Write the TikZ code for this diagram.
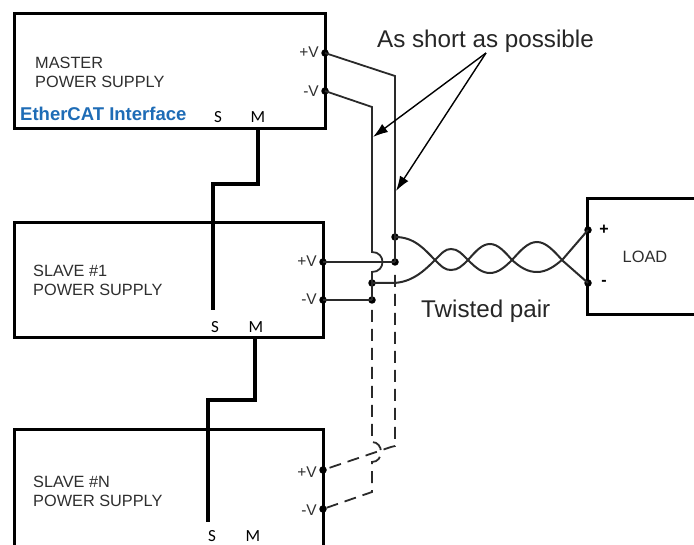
\documentclass[tikz,border=0pt]{standalone}
\usepackage{fontspec}
\setmainfont{Liberation Sans}
\newfontfamily\smfont{Carlito}
\usetikzlibrary{arrows.meta}
\definecolor{labelgray}{HTML}{2E2E2E}
\definecolor{wiregray}{HTML}{2A2A2A}
\definecolor{ecblue}{HTML}{1E6CB6}
\begin{document}
\begin{tikzpicture}[x=1pt,y=-1pt,
  psbox/.style={draw=black,line width=3pt,inner sep=0pt,outer sep=0pt},
  lbl/.style={text=labelgray,font=\fontsize{16.3}{19}\selectfont,anchor=base west,inner sep=0pt},
  term/.style={text=labelgray,font=\fontsize{15.5}{17}\selectfont,anchor=base east,inner sep=0pt},
  smlbl/.style={text=black,font=\smfont\fontsize{17}{19}\selectfont,anchor=base,inner sep=0pt},
  dotn/.style={circle,fill=black,inner sep=0pt,minimum size=7.5pt},
  wire/.style={draw=wiregray,line width=1.8pt,line join=miter},
  dwire/.style={wire,dash pattern=on 12pt off 7pt},
  smwire/.style={draw=black,line width=4pt,line join=miter},
  pointer/.style={draw=black,line width=1.4pt,-{Latex[length=15pt,width=10pt]}},
  big/.style={text=black!85,font=\fontsize{24.2}{27}\selectfont,anchor=base west,inner sep=0pt}]
\useasboundingbox (0,0) rectangle (694,545);
\clip (0,0) rectangle (694,545);
\fill[white] (0,0) rectangle (694,545);

% boxes
\node[psbox,minimum width=311pt,minimum height=115pt] (master) at (169.5,71.5) {};
\node[psbox,minimum width=309pt,minimum height=115pt] (slave1) at (168.5,280.5) {};
\node[psbox,minimum width=309pt,minimum height=150pt] (slaveN) at (168.5,505) {};
\node[psbox,minimum width=140pt,minimum height=116pt] (load) at (657,257) {};

% box texts
\node[lbl] (mt1) at (35,69) {MASTER};
\node[lbl] (mt2) at (35,88) {POWER SUPPLY};
\node[anchor=base west,inner sep=0pt,text=ecblue,font=\bfseries\fontsize{18.5}{20}\selectfont] (eth) at (20,120.5) {EtherCAT Interface};
\node[lbl] (s1t1) at (33,277) {SLAVE \#1};
\node[lbl] (s1t2) at (33,296) {POWER SUPPLY};
\node[lbl] (sNt1) at (33,487) {SLAVE \#N};
\node[lbl] (sNt2) at (33,506) {POWER SUPPLY};
\node[text=labelgray,font=\fontsize{16.4}{18}\selectfont,inner sep=0pt] (loadt) at (645,257) {LOAD};

% S / M labels
\node[smlbl] (mS) at (218,123) {S};
\node[smlbl] (mM) at (258,123) {M};
\node[smlbl] (s1S) at (215,333) {S};
\node[smlbl] (s1M) at (256,333) {M};
\node[smlbl] (sNS) at (212,541.5) {S};
\node[smlbl] (sNM) at (253,541.5) {M};

% terminal labels
\node[term] (mPt) at (319,58) {+V};
\node[term] (mNt) at (319,97) {-V};
\node[term] (s1Pt) at (317,267) {+V};
\node[term] (s1Nt) at (317,305) {-V};
\node[term] (sNPt) at (317,477) {+V};
\node[term] (sNNt) at (317,515) {-V};
\node[text=black,font=\bfseries\fontsize{16}{18}\selectfont,inner sep=0pt] (lPt) at (604,230) {+};
\node[text=black,font=\bfseries\fontsize{16}{18}\selectfont,inner sep=0pt] (lNt) at (604,283) {-};

% terminal dots
\node[dotn] (mP) at (325,53) {};
\node[dotn] (mN) at (325,91) {};
\node[dotn] (s1P) at (323,262) {};
\node[dotn] (s1N) at (323,300) {};
\node[dotn] (sNP) at (323,470) {};
\node[dotn] (sNN) at (323,509) {};
\node[dotn] (lP) at (588,230) {};
\node[dotn] (lN) at (588,283) {};
% junction dots
\node[dotn] (jA) at (395,237) {};
\node[dotn] (jB) at (395,262) {};
\node[dotn] (jC) at (372,283) {};
\node[dotn] (jD) at (372,300) {};

% S-M links
\coordinate (mMb) at (258,129);
\coordinate (s1Sa) at (213,310);
\coordinate (s1Mb) at (255,338);
\coordinate (sNSa) at (208,522);
\draw[smwire] (mMb) |- (213,184) -- (s1Sa);
\draw[smwire] (s1Mb) |- (208,400) -- (sNSa);

% master +V wire
\draw[wire] (mP.center) -- (395,76) -- (jA.center) -- (jB.center);
% master -V wire with hop over slave1 +V
\draw[wire] (mN.center) -- (372,107) -- (372,252)
   .. controls (386,252) and (386,272) .. (372,272) -- (jC.center) -- (jD.center);
% slave 1 connections
\draw[wire] (s1P.center) -- (jB.center);
\draw[wire] (s1N.center) -- (jD.center);
% slave N dashed connections
\draw[dwire] (jB.center) ++(0,13) -- (395,446) -- (391,447) -- (sNP.center);
\draw[dwire] (jD.center) ++(0,10) -- (372,442)
   .. controls (384,442) and (384,462) .. (372,462) -- (372,492) -- (sNN.center);

% twisted pair
\draw[wire,line width=2pt] (jA.center) .. controls (415,237) and (425,250) .. (435,260)
  .. controls (442,267) and (445,270) .. (451,270)
  .. controls (458,270) and (462,266) .. (468,260)
  .. controls (476,251) and (482,244) .. (490,244)
  .. controls (498,244) and (505,252) .. (512,260)
  .. controls (521,268) and (528,272) .. (537,272)
  .. controls (546,272) and (554,267) .. (563,259)
  -- (lP.center);
\draw[wire,line width=2pt] (jC.center) -- (392,283) .. controls (412,283) and (425,270) .. (435,260)
  .. controls (442,253) and (445,249) .. (451,249)
  .. controls (458,249) and (462,254) .. (468,260)
  .. controls (476,268) and (482,273) .. (490,273)
  .. controls (498,273) and (505,267) .. (512,260)
  .. controls (521,250) and (528,242) .. (537,242)
  .. controls (546,242) and (554,251) .. (563,261)
  -- (lN.center);

% annotations
\node[big] (short) at (377,48) {As short as possible};
\node[big] (twist) at (421,318) {Twisted pair};
\coordinate (arrfrom) at (486,53);
\coordinate (arrtoA) at (373,137);
\coordinate (arrtoB) at (396,191);
\draw[pointer] (arrfrom) -- (arrtoA);
\draw[pointer] (arrfrom) -- (arrtoB);
\end{tikzpicture}
\end{document}
